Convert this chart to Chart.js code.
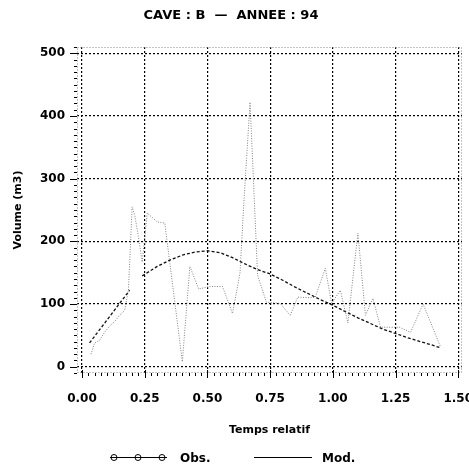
<!DOCTYPE html>
<html>
<head>
<meta charset="utf-8">
<script src="https://cdn.jsdelivr.net/npm/chart.js@4.4.0/dist/chart.umd.min.js"></script>
<style>
  html, body { margin: 0; padding: 0; background: #fff; }
</style>
</head>
<body>
<canvas id="myChart" width="469" height="471"></canvas>
<script>
// observed volumes
const obsTime = [0.036, 0.05, 0.07, 0.09, 0.11, 0.13, 0.15, 0.17, 0.185, 0.20, 0.21, 0.225, 0.24, 0.26, 0.30, 0.33,
  0.40, 0.43, 0.465, 0.51, 0.56, 0.60, 0.63, 0.645, 0.67, 0.70, 0.735, 0.79, 0.83, 0.86, 0.91, 0.93, 0.97,
  0.995, 1.03, 1.06, 1.10, 1.13, 1.16, 1.19, 1.265, 1.31, 1.36, 1.43];
const obsVolume = [20, 38, 42, 55, 65, 72, 82, 90, 122, 255, 242, 207, 167, 245, 231, 229,
  8, 160, 124, 128, 128, 85, 150, 260, 422, 146, 103, 101, 82, 111, 110, 111, 157,
  101, 122, 70, 213, 82, 109, 63, 63, 55, 100, 31];

// model, two phases
const modTime1 = [0.03, 0.11, 0.19];
const modVolume1 = [38, 80, 122];
const modTime2 = [0.24, 0.30, 0.35, 0.40, 0.45, 0.50, 0.55, 0.60, 0.65, 0.70, 0.75, 0.80, 0.85, 0.90, 0.95,
  1.00, 1.05, 1.10, 1.15, 1.20, 1.25, 1.30, 1.35, 1.40, 1.43];
const modVolume2 = [145, 160, 170, 178, 183, 185, 182, 174, 164, 155, 148, 138, 127, 117, 107,
  98, 88, 78, 69, 60, 53, 46, 40, 34, 30];

const xTicks = [0, 0.25, 0.5, 0.75, 1, 1.25, 1.5];
const yTicks = [0, 100, 200, 300, 400, 500];

const toPoints = (xs, ys) => xs.map((x, i) => ({ x: x, y: ys[i] }));
const boldFont = { family: 'DejaVu Sans', weight: 'bold', size: 12 };
const labelFont = { family: 'DejaVu Sans', weight: 'bold', size: 11 };

// minor ticks, frame and legend
const extras = {
  id: 'extras',
  afterDraw(chart) {
    const { ctx, chartArea: a, scales: { x, y } } = chart;
    ctx.save();
    ctx.lineWidth = 1;
    // frame (dotted, light)
    ctx.setLineDash([1, 2]);
    ctx.strokeStyle = '#888';
    ctx.strokeRect(a.left + 0.5, a.top + 0.5, a.right - a.left - 1, a.bottom - a.top - 1);
    ctx.setLineDash([]);
    ctx.strokeStyle = '#000';
    ctx.beginPath();
    for (let v = -10; v <= 510; v += 10) {
      const py = Math.round(y.getPixelForValue(v)) + 0.5;
      const len = v % 100 === 0 ? 7 : 3;
      ctx.moveTo(a.left - len, py);
      ctx.lineTo(a.left, py);
    }
    for (let i = -1; i <= 60; i++) {
      const v = i * 0.025;
      const px = Math.round(x.getPixelForValue(v)) + 0.5;
      if (px < a.left || px > a.right) continue;
      const major = i % 10 === 0;
      ctx.moveTo(px, a.bottom - (major ? 3 : 0));
      ctx.lineTo(px, a.bottom + (major ? 5 : 3));
    }
    ctx.stroke();

    // legend
    const ly = 457.5;
    ctx.beginPath();
    ctx.moveTo(110, ly); ctx.lineTo(167, ly);
    ctx.moveTo(254, ly); ctx.lineTo(312, ly);
    ctx.stroke();
    ctx.fillStyle = '#fff';
    [114, 138, 162].forEach(cx => {
      ctx.beginPath();
      ctx.arc(cx, ly, 3, 0, Math.PI * 2);
      ctx.fill();
      ctx.stroke();
      ctx.beginPath();
      ctx.moveTo(cx - 3, ly); ctx.lineTo(cx + 3, ly);
      ctx.stroke();
    });
    ctx.fillStyle = '#000';
    ctx.font = 'bold 12px "DejaVu Sans"';
    ctx.textBaseline = 'middle';
    ctx.fillText('Obs.', 180, ly + 1);
    ctx.fillText('Mod.', 322, ly + 1);
    ctx.restore();
  }
};

new Chart(document.getElementById('myChart').getContext('2d'), {
  type: 'scatter',
  data: {
    datasets: [{
      label: 'Obs.',
      data: toPoints(obsTime, obsVolume),
      showLine: true,
      borderColor: '#808080',
      borderWidth: 1,
      borderDash: [1, 1.5],
      pointRadius: 0,
      tension: 0
    }, {
      label: 'Mod.',
      data: toPoints(modTime1, modVolume1),
      showLine: true,
      borderColor: '#111',
      borderWidth: 1.3,
      borderDash: [3, 2],
      pointRadius: 0
    }, {
      label: 'Mod.',
      data: toPoints(modTime2, modVolume2),
      showLine: true,
      borderColor: '#111',
      borderWidth: 1.3,
      borderDash: [3, 2],
      pointRadius: 0
    }]
  },
  options: {
    responsive: false,
    animation: false,
    devicePixelRatio: 1,
    layout: { padding: { top: 0, right: 7, left: 0, bottom: 0 } },
    plugins: {
      legend: { display: false },
      tooltip: { enabled: false },
      title: {
        display: true,
        text: 'CAVE : B  \u2014  ANNEE : 94',
        color: '#000',
        font: { family: 'DejaVu Sans', weight: 'bold', size: 13 },
        padding: { top: 8, bottom: 23.4 }
      }
    },
    scales: {
      x: {
        type: 'linear',
        min: -0.02,
        max: 1.515,
        afterBuildTicks: s => { s.ticks = xTicks.map(v => ({ value: v })); },
        afterFit: s => { s.height = 98; s.paddingLeft = 0; s.paddingRight = 0; },
        grid: { color: '#000', lineWidth: 1.2, drawTicks: false },
        border: { display: false, dash: [2, 2] },
        ticks: { padding: 19, color: '#000', font: boldFont, maxRotation: 0, autoSkip: false,
          callback: v => v.toFixed(2) },
        title: { display: true, text: 'Temps relatif', color: '#000', font: labelFont,
          padding: { top: 0, bottom: 34.4 } }
      },
      y: {
        min: -10,
        max: 510,
        afterBuildTicks: s => { s.ticks = yTicks.map(v => ({ value: v })); },
        afterFit: s => { s.width = 77; s.paddingTop = 0; s.paddingBottom = 0; },
        grid: { color: '#000', lineWidth: 1.2, drawTicks: false },
        border: { display: false, dash: [2, 2] },
        ticks: { padding: 12, color: '#000', font: boldFont },
        title: { display: true, text: 'Volume (m3)', color: '#000', font: labelFont,
          padding: { top: 11.4, bottom: 0 } }
      }
    }
  },
  plugins: [extras]
});
</script>
</body>
</html>
